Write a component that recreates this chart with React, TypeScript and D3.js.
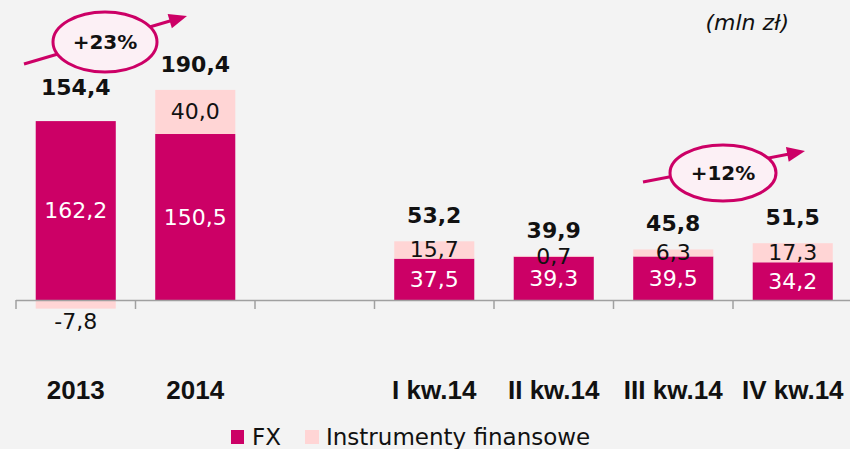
import React from "react";
import * as d3 from "d3";

const categories = ["2013", "2014", "", "I kw.14", "II kw.14", "III kw.14", "IV kw.14"];
const fxValues: (number | null)[] = [162.2, 150.5, null, 37.5, 39.3, 39.5, 34.2];
const instrValues: (number | null)[] = [-7.8, 40.0, null, 15.7, 0.7, 6.3, 17.3];
const totals: (number | null)[] = [154.4, 190.4, null, 53.2, 39.9, 45.8, 51.5];
const seriesNames = ["FX", "Instrumenty finansowe"];
const unitLabel = "(mln zł)";
const growthLabels = ["+23%", "+12%"];

const W = 850;
const H = 449;
const FX_COLOR = "#cc0066";
const INSTR_COLOR = "#ffd5d5";
const BG = "#f3f3f3";
const FONT = "'DejaVu Sans', Verdana, sans-serif";
const AXIS_FONT = "'Liberation Sans', Arial, sans-serif";

const fmt = (v: number) => d3.format(".1f")(v).replace(".", ",").replace("\u2212", "-");

function Growth({ cx, cy, rx, ry, x1, y1, x2, y2, label }: any) {
  const ang = Math.atan2(y2 - y1, x2 - x1);
  const len = 18;
  const half = 7.5;
  const bx = x2 - len * Math.cos(ang);
  const by = y2 - len * Math.sin(ang);
  const px = -Math.sin(ang);
  const py = Math.cos(ang);
  const pts = [
    [x2, y2],
    [bx + px * half, by + py * half],
    [bx - px * half, by - py * half],
  ];
  return (
    <g>
      <line x1={x1} y1={y1} x2={bx + 2 * Math.cos(ang)} y2={by + 2 * Math.sin(ang)} stroke={FX_COLOR} strokeWidth={3} />
      <polygon points={pts.map((p) => p.join(",")).join(" ")} fill={FX_COLOR} />
      <ellipse cx={cx} cy={cy} rx={rx} ry={ry} fill="#fcf0f5" stroke={FX_COLOR} strokeWidth={3} />
      <text x={cx} y={cy} textAnchor="middle" dominantBaseline="central" fontFamily={FONT} fontWeight="bold" fontSize={20} fill="#111">
        {label}
      </text>
    </g>
  );
}

export default function App() {
  const x = d3.scaleBand<string>().domain(categories).range([16, 852.5]).paddingInner(0.33).paddingOuter(0.165);
  const y = d3.scaleLinear().domain([0, 190.4]).range([300, 90]);
  const step = x.step();
  const bw = x.bandwidth();
  const ticks = d3.range(categories.length + 1).map((i) => 16 + i * step);

  return (
    <svg width={W} height={H} style={{ position: "absolute", left: 0, top: 0, display: "block" }}>
      <rect x={0} y={0} width={W} height={H} fill={BG} />
      {categories.map((c, i) => {
        const fx = fxValues[i];
        const ins = instrValues[i];
        const tot = totals[i];
        if (fx == null || ins == null || tot == null) return null;
        const x0 = x(c)!;
        const cx = x0 + bw / 2;
        const fxTop = y(fx);
        const insA = ins >= 0 ? y(fx + ins) : y(0);
        const insB = ins >= 0 ? y(fx) : y(ins);
        const negH = ins < 0 ? y(ins) - y(0) : 0;
        const topY = Math.min(fxTop, insA);
        return (
          <g key={c}>
            <rect x={x0} y={fxTop} width={bw} height={y(0) - fxTop} fill={FX_COLOR} />
            <rect x={x0} y={insA} width={bw} height={insB - insA} fill={INSTR_COLOR} />
            <text x={cx} y={(fxTop + y(0)) / 2} textAnchor="middle" dominantBaseline="central" fontFamily={FONT} fontSize={22} fill="#fff">
              {fmt(fx)}
            </text>
            <text
              x={cx}
              y={ins >= 0 ? (insA + insB) / 2 : insB + 13}
              textAnchor="middle"
              dominantBaseline="central"
              fontFamily={FONT}
              fontSize={22}
              fill="#111"
            >
              {fmt(ins)}
            </text>
            <text x={cx} y={topY - 18 - negH} textAnchor="middle" fontFamily={FONT} fontWeight="bold" fontSize={22} fill="#111">
              {fmt(tot)}
            </text>
          </g>
        );
      })}
      <line x1={16} x2={W} y1={300.5} y2={300.5} stroke="#a0a0a0" strokeWidth={1.5} />
      {ticks.map((t, i) => (
        <line key={i} x1={t} x2={t} y1={300} y2={309} stroke="#a0a0a0" strokeWidth={1.5} />
      ))}
      {categories.map((c) => (
        <text key={"l" + c} x={x(c)! + bw / 2} y={399} textAnchor="middle" fontFamily={AXIS_FONT} fontWeight="bold" fontSize={26} fill="#111">
          {c}
        </text>
      ))}
      <text x={789} y={30} textAnchor="end" fontFamily={FONT} fontStyle="italic" fontSize={22} fill="#111">
        {unitLabel}
      </text>
      <Growth cx={105} cy={42} rx={52} ry={30} x1={24} y1={64} x2={187} y2={16} label={growthLabels[0]} />
      <Growth cx={723} cy={173} rx={53} ry={28} x1={643} y1={182} x2={805} y2={151} label={growthLabels[1]} />
      <g>
        <rect x={231} y={430} width={13} height={14} fill={FX_COLOR} />
        <text x={252} y={445} fontFamily={FONT} fontSize={23} fill="#111">{seriesNames[0]}</text>
        <rect x={305} y={430} width={14} height={14} fill={INSTR_COLOR} />
        <text x={326} y={445} fontFamily={FONT} fontSize={23} fill="#111">{seriesNames[1]}</text>
      </g>
    </svg>
  );
}
